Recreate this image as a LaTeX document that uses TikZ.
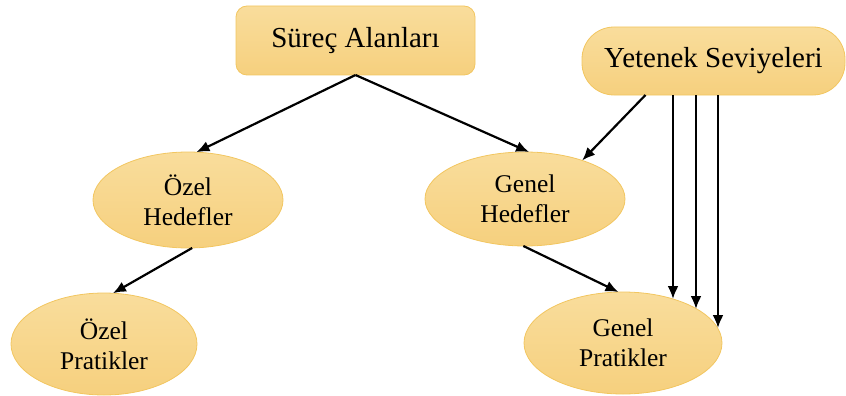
\documentclass[tikz,border=0pt]{standalone}
\usepackage{fontspec}
\setmainfont{Liberation Serif}
\usetikzlibrary{arrows.meta,calc,shapes.geometric}

\definecolor{filltop}{RGB}{249,221,156}
\definecolor{fillbot}{RGB}{246,208,126}
\definecolor{edge}{RGB}{242,198,96}

\tikzset{
  fillbox/.style={draw=edge, line width=0.8pt, top color=filltop, bottom color=fillbot, outer sep=0pt, inner sep=0pt},
  headbox/.style={fillbox, rectangle, rounded corners=11pt, font=\fontsize{29}{34}\selectfont},
  goal/.style={fillbox, ellipse, align=center, font=\fontsize{25.5}{30}\selectfont},
  link/.style={line width=2.2pt, -{Latex[length=13pt,width=11pt]}},
}

\begin{document}
\begin{tikzpicture}[x=1pt,y=1pt]
  \useasboundingbox (0,0) rectangle (846,-396);

  % process areas and capability levels
  \node[headbox, minimum width=239pt, minimum height=69pt] (sa) at (355.5,-40.5) {Süreç Alanları};
  \node[headbox, rounded corners=32pt, minimum width=263pt, minimum height=68pt] (ys) at (713.5,-61) {Yetenek Seviyeleri};

  % goals
  \node[goal, minimum width=190pt, minimum height=96pt] (oh) at (188,-200) {Özel\\Hedefler};
  \node[goal, minimum width=200pt, minimum height=94pt] (gh) at (525,-199) {Genel\\Hedefler};

  % practices
  \node[goal, minimum width=186pt, minimum height=102pt] (op) at (104,-344) {Özel\\Pratikler};
  \node[goal, minimum width=198pt, minimum height=102pt] (gp) at (623,-343) {Genel\\Pratikler};

  % connectors
  \draw[link] (sa.south) -- (oh.80);
  \draw[link] (sa.south) -- (gh.85);
  \draw[link] (oh.-85) -- (op.80);
  \draw[link] (gh.-92) -- (gp.95);
  \draw[link] ($(ys.south)+(-68,0)$) -- (gh.34);

  \coordinate (c1) at ($(gp.center)+(50,44)$);
  \coordinate (c2) at ($(gp.center)+(73,34)$);
  \coordinate (c3) at ($(gp.center)+(95,15)$);
  \draw[link] ($(ys.south)+(-40.5,0)$) -- (c1);
  \draw[link] ($(ys.south)+(-17.5,0)$) -- (c2);
  \draw[link] ($(ys.south)+(4.5,0)$) -- (c3);
\end{tikzpicture}
\end{document}
